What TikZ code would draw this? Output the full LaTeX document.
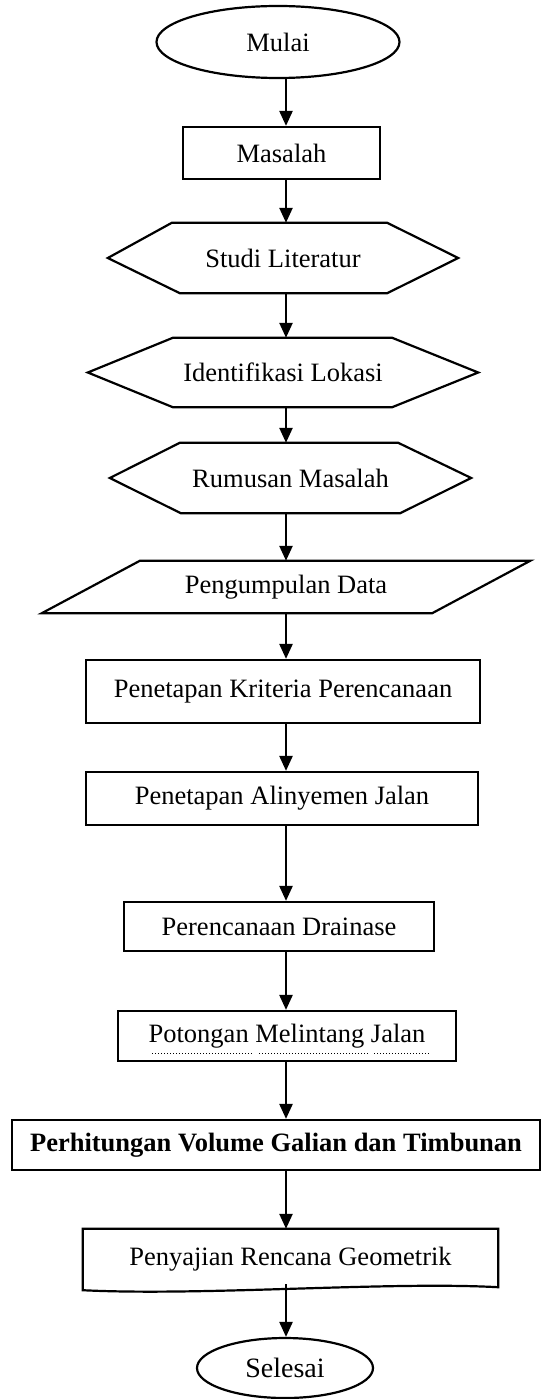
\documentclass[tikz,border=0pt]{standalone}
\usepackage{fontspec}
\setmainfont{Liberation Serif}
\usetikzlibrary{shapes.geometric,arrows.meta}

\tikzset{
  txt/.style={font=\fontsize{26.5}{30}\selectfont, inner sep=0pt, align=center},
  box/.style={txt, draw, line width=2.2pt},
  oval/.style={txt, draw, ellipse, line width=2.2pt},
  outline/.style={line width=2.2pt, line join=miter},
  arr/.style={line width=2.4pt, -{Triangle[length=15pt,width=13pt]}}
}

\begin{document}
\begin{tikzpicture}[x=1pt,y=-1pt]
\useasboundingbox (0,0) rectangle (542,1399);
\coordinate (col) at (286,0);

\node[oval, minimum width=243pt, minimum height=72pt] (mulai) at (278,42) {Mulai};
\node[box, minimum width=197pt, minimum height=52pt] (masalah) at (281.5,153) {Masalah};

% hexagons
\node[txt, minimum width=350pt, minimum height=70pt] (studi) at (283,258) {Studi Literatur};
\draw[outline] (studi.west) -- ([xshift=64pt]studi.north west) -- ([xshift=-71pt]studi.north east)
  -- (studi.east) -- ([xshift=-71pt]studi.south east) -- ([xshift=72pt]studi.south west) -- cycle;

\node[txt, minimum width=390pt, minimum height=69pt] (lokasi) at (283,372.5) {Identifikasi Lokasi};
\draw[outline] (lokasi.west) -- ([xshift=85pt]lokasi.north west) -- ([xshift=-86pt]lokasi.north east)
  -- (lokasi.east) -- ([xshift=-86pt]lokasi.south east) -- ([xshift=85pt]lokasi.south west) -- cycle;

\node[txt, minimum width=361pt, minimum height=70pt] (rumusan) at (290.5,478) {Rumusan Masalah};
\draw[outline] (rumusan.west) -- ([xshift=70pt]rumusan.north west) -- ([xshift=-73pt]rumusan.north east)
  -- (rumusan.east) -- ([xshift=-71pt]rumusan.south east) -- ([xshift=71pt]rumusan.south west) -- cycle;

% parallelogram
\node[txt, minimum width=488pt, minimum height=52pt] (data) at (286,587) {Pengumpulan Data};
\draw[outline] ([xshift=98pt]data.north west) -- (data.north east)
  -- ([xshift=-98pt]data.south east) -- (data.south west) -- cycle;

\node[box, minimum width=394pt, minimum height=63pt] (kriteria) at (283,691.5) {Penetapan Kriteria Perencanaan};
\node[box, minimum width=392pt, minimum height=53pt] (alinyemen) at (282,798.5) {Penetapan Alinyemen Jalan};
\node[box, minimum width=310pt, minimum height=49pt] (drainase) at (279,926.5) {Perencanaan Drainase};
\node[box, minimum width=338pt, minimum height=50pt] (potongan) at (287,1036) {Potongan Melintang Jalan};
\draw[dotted, line width=1pt] (152,1053) -- (252,1053);
\draw[dotted, line width=1pt] (259,1053) -- (368,1053);
\draw[dotted, line width=1pt] (374,1053) -- (429,1053);
\node[box, minimum width=528pt, minimum height=50pt, font=\fontsize{26.5}{30}\selectfont\bfseries] (volume) at (276,1145) {Perhitungan Volume Galian dan Timbunan};

% document shape
\node[txt, minimum width=415pt, minimum height=61pt] (sajian) at (290.5,1259.5) {Penyajian Rencana Geometrik};
\draw[outline] (sajian.north west) -- (sajian.north east) -- ([yshift=3pt]sajian.south east)
  .. controls ([xshift=-110pt,yshift=9pt]sajian.south east) and ([xshift=120pt,yshift=-6pt]sajian.south west)
  .. (sajian.south west) -- cycle;

\node[oval, minimum width=176pt, minimum height=60pt, font=\fontsize{28}{30}\selectfont] (selesai) at (285,1368) {Selesai};

\draw[arr] (mulai.south -| col) -- (masalah.north -| col);
\draw[arr] (masalah.south -| col) -- (studi.north -| col);
\draw[arr] (studi.south -| col) -- (lokasi.north -| col);
\draw[arr] (lokasi.south -| col) -- (rumusan.north -| col);
\draw[arr] (rumusan.south -| col) -- (data.north -| col);
\draw[arr] (data.south -| col) -- (kriteria.north -| col);
\draw[arr] (kriteria.south -| col) -- (alinyemen.north -| col);
\draw[arr] (alinyemen.south -| col) -- (drainase.north -| col);
\draw[arr] (drainase.south -| col) -- (potongan.north -| col);
\draw[arr] (potongan.south -| col) -- (volume.north -| col);
\draw[arr] (volume.south -| col) -- (sajian.north -| col);
\draw[arr] ([yshift=6pt]sajian.south -| col) -- (selesai.north -| col);
\end{tikzpicture}
\end{document}
